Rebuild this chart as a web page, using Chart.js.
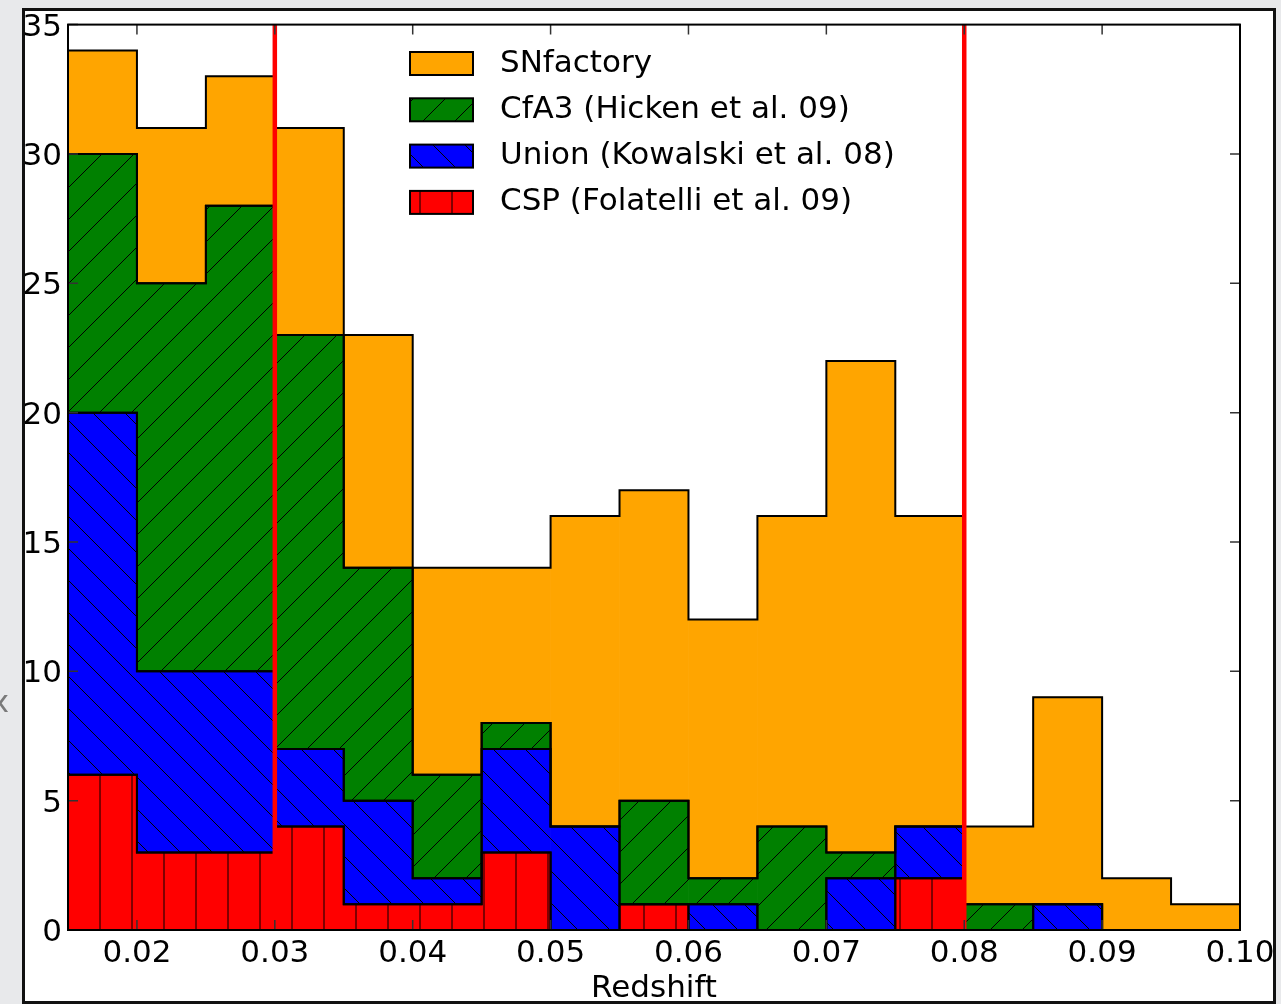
<!DOCTYPE html>
<html>
<head>
<meta charset="utf-8">
<script src="https://cdn.jsdelivr.net/npm/chart.js@4/dist/chart.umd.min.js"></script>
<style>
  html, body { margin: 0; padding: 0; background: #e8e9eb; }
  canvas { display: block; }
</style>
</head>
<body>
<canvas id="histo" width="1281" height="1004"></canvas>
<script>
// bin centres (bins 0.005 wide, 0.015 .. 0.100)
const binCenters = [0.0175, 0.0225, 0.0275, 0.0325, 0.0375, 0.0425, 0.0475, 0.0525, 0.0575,
                    0.0625, 0.0675, 0.0725, 0.0775, 0.0825, 0.0875, 0.0925, 0.0975];
// counts per sample, stacked bottom to top
const cspCounts   = [6, 3, 3, 4, 1, 1, 3, 0, 1, 0, 0, 0, 2, 0, 0, 0, 0];
const unionCounts = [14, 7, 7, 3, 4, 1, 4, 4, 0, 1, 0, 2, 2, 0, 1, 0, 0];
const cfa3Counts  = [10, 15, 18, 16, 9, 4, 1, 0, 4, 1, 4, 1, 0, 1, 0, 0, 0];
const snfCounts   = [4, 6, 5, 8, 9, 8, 6, 12, 12, 10, 12, 19, 12, 3, 8, 2, 1];

const xTicks = [0.02, 0.03, 0.04, 0.05, 0.06, 0.07, 0.08, 0.09, 0.10];
const yTicks = [0, 5, 10, 15, 20, 25, 30, 35];
const cutLines = [0.03, 0.08];

const FONT = 'DejaVu Sans';

// hatch patterns, anchored to the canvas like matplotlib's
const makeHatch = (color, kind) => {
  const s = 32;
  const c = document.createElement('canvas');
  c.width = s; c.height = s;
  const g = c.getContext('2d');
  g.fillStyle = color;
  g.fillRect(0, 0, s, s);
  if (kind) {
    g.strokeStyle = '#000';
    g.lineWidth = 1;
    g.beginPath();
    if (kind === '/') {
      [-s, 0, s].forEach(o => { g.moveTo(o, s); g.lineTo(o + s, 0); });
    } else if (kind === '\\') {
      [-s, 0, s].forEach(o => { g.moveTo(o, 0); g.lineTo(o + s, s); });
    } else if (kind === '|') {
      g.moveTo(4, 0); g.lineTo(4, s);
    }
    g.stroke();
  }
  return g.createPattern(c, 'repeat');
};

const toPoints = arr => arr.map((v, i) => ({ x: binCenters[i], y: v }));

const ctx = document.getElementById('histo').getContext('2d');

const datasets = [
  { label: 'CSP (Folatelli et al. 09)', data: toPoints(cspCounts), backgroundColor: makeHatch('#ff0000', '|') },
  { label: 'Union (Kowalski et al. 08)', data: toPoints(unionCounts), backgroundColor: makeHatch('#0000ff', '\\') },
  { label: 'CfA3 (Hicken et al. 09)', data: toPoints(cfa3Counts), backgroundColor: makeHatch('#008000', '/') },
  { label: 'SNfactory', data: toPoints(snfCounts), backgroundColor: makeHatch('#ffa500', null) }
];
datasets.forEach(d => {
  d.borderWidth = 0;
  d.barPercentage = 1;
  d.categoryPercentage = 1;
});

const framePlugin = {
  id: 'frame',
  beforeDraw(chart) {
    const c = chart.ctx;
    c.save();
    c.fillStyle = '#e8e9eb';
    c.fillRect(0, 0, chart.width, chart.height);
    c.fillStyle = '#ffffff';
    c.fillRect(23, 9, 1252, 995);
    // stray glyph at the left edge of the screenshot
    c.fillStyle = '#7a7a7a';
    c.font = '31px ' + FONT;
    c.textAlign = 'center';
    c.textBaseline = 'middle';
    c.fillText('x', 0, 704);
    c.restore();
  },
  afterDatasetsDraw(chart) {
    const c = chart.ctx;
    c.save();
    c.strokeStyle = '#000';
    c.lineWidth = 2;
    c.lineJoin = 'miter';
    // step outline of each stacked layer (stepfilled look)
    chart.data.datasets.forEach((ds, di) => {
      const bars = chart.getDatasetMeta(di).data.map(el => el.getProps(['x', 'y', 'base', 'width'], true));
      const pts = [];
      bars.forEach(p => {
        pts.push([p.x - p.width / 2, p.y], [p.x + p.width / 2, p.y]);
      });
      bars.slice().reverse().forEach(p => {
        pts.push([p.x + p.width / 2, p.base], [p.x - p.width / 2, p.base]);
      });
      c.beginPath();
      pts.forEach((q, i) => (i ? c.lineTo(q[0], q[1]) : c.moveTo(q[0], q[1])));
      c.closePath();
      c.stroke();
    });
    // selection cuts
    const xs = chart.scales.x;
    const a = chart.chartArea;
    c.strokeStyle = '#ff0000';
    c.lineWidth = 4.5;
    cutLines.forEach(v => {
      const px = xs.getPixelForValue(v);
      c.beginPath();
      c.moveTo(px, a.top);
      c.lineTo(px, a.bottom);
      c.stroke();
    });
    c.restore();
  },
  afterDraw(chart) {
    const c = chart.ctx;
    const a = chart.chartArea;
    const xs = chart.scales.x, ys = chart.scales.y;
    c.save();
    // inward ticks on all four sides
    c.strokeStyle = '#333';
    c.lineWidth = 1.5;
    c.beginPath();
    xTicks.forEach(v => {
      const px = xs.getPixelForValue(v);
      c.moveTo(px, a.bottom); c.lineTo(px, a.bottom - 10);
      c.moveTo(px, a.top); c.lineTo(px, a.top + 10);
    });
    yTicks.forEach(v => {
      const py = ys.getPixelForValue(v);
      c.moveTo(a.left, py); c.lineTo(a.left + 10, py);
      c.moveTo(a.right, py); c.lineTo(a.right - 10, py);
    });
    c.stroke();
    // axes frame
    c.strokeStyle = '#000';
    c.lineWidth = 2;
    c.strokeRect(a.left, a.top, a.right - a.left, a.bottom - a.top);

    // legend (top dataset first)
    const items = chart.data.datasets.slice().reverse();
    c.font = '31px ' + FONT;
    c.textAlign = 'left';
    c.textBaseline = 'middle';
    items.forEach((ds, i) => {
      const cy = 63.5 + i * 46.3;
      c.fillStyle = ds.backgroundColor;
      c.fillRect(410, cy - 11.5, 63, 23);
      c.strokeStyle = '#000';
      c.lineWidth = 2;
      c.strokeRect(410, cy - 11.5, 63, 23);
      c.fillStyle = '#000';
      c.fillText(ds.label, 500, cy);
    });

    // screenshot border
    c.strokeStyle = '#111';
    c.lineWidth = 3;
    c.strokeRect(23.5, 9.5, 1251, 993);
    c.restore();
  }
};

new Chart(ctx, {
  type: 'bar',
  data: { datasets },
  options: {
    responsive: false,
    animation: false,
    layout: { padding: { left: 0, right: 41, top: 22, bottom: 0 } },
    plugins: {
      legend: { display: false },
      tooltip: { enabled: false }
    },
    scales: {
      x: {
        type: 'linear',
        stacked: true,
        offset: false,
        min: 0.015,
        max: 0.1,
        grid: { display: false, drawTicks: false, offset: false },
        border: { display: false },
        afterBuildTicks: scale => { scale.ticks = xTicks.map(v => ({ value: v })); },
        afterFit: scale => { scale.height = 74; },
        ticks: {
          color: '#000',
          padding: 5,
          maxRotation: 0,
          autoSkip: false,
          font: { family: FONT, size: 31 },
          callback: v => v.toFixed(2)
        },
        title: {
          display: true,
          text: 'Redshift',
          color: '#000',
          padding: 0,
          font: { family: FONT, size: 31, lineHeight: 1 }
        }
      },
      y: {
        stacked: true,
        min: 0,
        max: 35,
        grid: { display: false, drawTicks: false },
        border: { display: false },
        afterBuildTicks: scale => { scale.ticks = yTicks.map(v => ({ value: v })); },
        afterFit: scale => { scale.width = 68; },
        ticks: {
          color: '#000',
          padding: 6,
          labelOffset: 3,
          font: { family: FONT, size: 31 }
        }
      }
    }
  },
  plugins: [framePlugin]
});
</script>
</body>
</html>
